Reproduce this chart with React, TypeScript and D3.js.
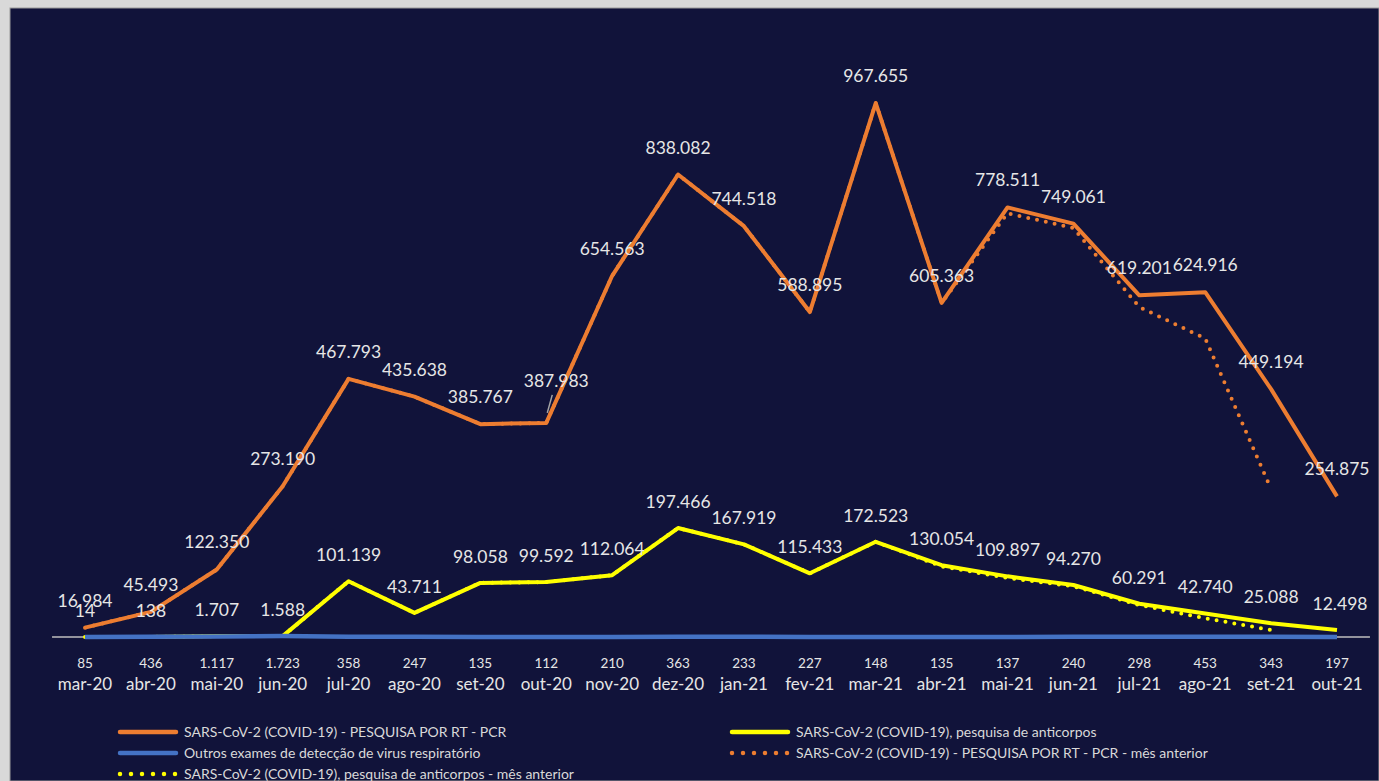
import React from "react";
import * as d3 from "d3";

const categories = ["mar-20","abr-20","mai-20","jun-20","jul-20","ago-20","set-20","out-20","nov-20","dez-20","jan-21","fev-21","mar-21","abr-21","mai-21","jun-21","jul-21","ago-21","set-21","out-21"];
const pcr = [16984,45493,122350,273190,467793,435638,385767,387983,654563,838082,744518,588895,967655,605363,778511,749061,619201,624916,449194,254875];
const anticorpos = [14,138,1707,1588,101139,43711,98058,99592,112064,197466,167919,115433,172523,130054,109897,94270,60291,42740,25088,12498];
const outros = [85,436,1117,1723,358,247,135,112,210,363,233,227,148,135,137,240,298,453,343,197];
const pcrPrev = [16984,45493,122350,273190,467793,435638,385767,387983,654563,838082,744518,588895,967655,605363,768000,741000,598000,541000,268000];
const antiPrev = [14,138,1707,1588,101139,43711,98058,99592,112064,197466,167919,115433,172523,128000,107000,92000,58000,34000,12700];

const fmt = (v: number) => String(v).replace(/\B(?=(\d{3})+(?!\d))/g, ".");

const W = 1379, H = 781;
const FONT = "Lato, 'Open Sans', sans-serif";

export default function App() {
  const x = d3.scalePoint<string>().domain(categories).range([85, 1337]);
  const step = x.step();
  const y = d3.scaleLinear().domain([0, 1100000]).range([637, 30]);
  const line = d3.line<number>().x((_, i) => x(categories[i]) as number).y((d) => y(d));

  const legendItems = [
    { label: "SARS-CoV-2 (COVID-19) - PESQUISA POR RT - PCR", color: "#ED7D31", dotted: false, col: 0, row: 0 },
    { label: "SARS-CoV-2 (COVID-19), pesquisa de anticorpos", color: "#FFFF00", dotted: false, col: 1, row: 0 },
    { label: "Outros exames de detecção de virus respiratório", color: "#4472C4", dotted: false, col: 0, row: 1 },
    { label: "SARS-CoV-2 (COVID-19) - PESQUISA POR RT - PCR - mês anterior", color: "#ED7D31", dotted: true, col: 1, row: 1 },
    { label: "SARS-CoV-2 (COVID-19), pesquisa de anticorpos - mês anterior", color: "#FFFF00", dotted: true, col: 0, row: 2 },
  ];
  const legendX = [118, 730];
  const legendY = [732, 753, 774];

  return (
    <svg width={W} height={H} style={{ position: "fixed", left: 0, top: 0 }} fontFamily={FONT}>
      <rect x={0} y={0} width={W} height={H} fill="#d9d9d9" />
      <rect x={10} y={8} width={W - 10} height={H - 8} fill="#11133a" stroke="#9a9a9a" strokeWidth={1} />
      <line x1={(x(categories[0]) as number) - step / 2} x2={(x(categories[categories.length - 1]) as number) + step / 2} y1={y(0)} y2={y(0)} stroke="#bfbfbf" strokeWidth={1.5} />
      <path d={line(pcr) || ""} fill="none" stroke="#ED7D31" strokeWidth={4} strokeLinejoin="round" />
      <path d={line(anticorpos) || ""} fill="none" stroke="#FFFF00" strokeWidth={4} strokeLinejoin="round" />
      <path d={line(pcrPrev) || ""} fill="none" stroke="#ED7D31" strokeWidth={4} strokeLinecap="round" strokeDasharray="0 9" />
      <path d={line(antiPrev) || ""} fill="none" stroke="#FFFF00" strokeWidth={4} strokeLinecap="round" strokeDasharray="0 9" />
      <path d={line(outros) || ""} fill="none" stroke="#4472C4" strokeWidth={4.5} strokeLinejoin="round" />
      <line x1={(x("out-20") as number) + 1} y1={y(387983) - 10} x2={(x("out-20") as number) + 6} y2={y(387983) - 28} stroke="#a6a6a6" strokeWidth={1.5} />
      {pcr.map((v, i) => (
        <text key={"p" + i} x={(x(categories[i]) as number) + (i === 7 ? 10 : 0)} y={y(v) - (i === 7 ? 36 : 21)} textAnchor="middle" fontSize={17.5} fill="#e6e6e6">{fmt(v)}</text>
      ))}
      {anticorpos.map((v, i) => (
        <text key={"a" + i} x={(x(categories[i]) as number) + (i === categories.length - 1 ? 3 : 0)} y={y(v) - 20} textAnchor="middle" fontSize={17.5} fill="#e6e6e6">{fmt(v)}</text>
      ))}
      {outros.map((v, i) => (
        <text key={"o" + i} x={x(categories[i]) as number} y={y(0) + 31} textAnchor="middle" fontSize={13.5} fill="#e6e6e6">{fmt(v)}</text>
      ))}
      {categories.map((c) => (
        <text key={c} x={x(c) as number} y={y(0) + 53} textAnchor="middle" fontSize={17} fill="#e6e6e6">{c}</text>
      ))}
      {legendItems.map((it, i) => (
        <g key={i} transform={`translate(${legendX[it.col]},${legendY[it.row]})`}>
          <line x1={2} x2={58} y1={0} y2={0} stroke={it.color} strokeWidth={4.5}
            strokeLinecap="round" strokeDasharray={it.dotted ? "0 11" : undefined} />
          <text x={66} y={5} fontSize={14} fill="#d9d9d9">{it.label}</text>
        </g>
      ))}
    </svg>
  );
}
